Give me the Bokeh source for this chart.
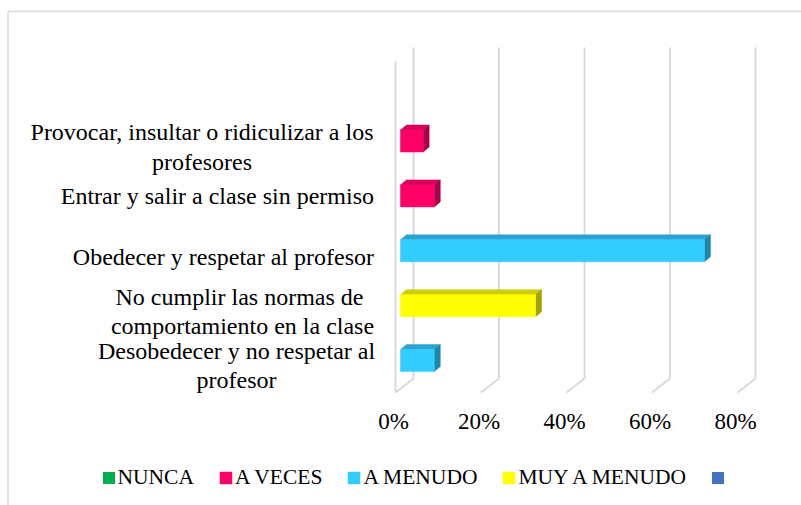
from bokeh.plotting import figure
from bokeh.models import Range1d, Legend, LegendItem
from bokeh.core.properties import value
from bokeh.embed import file_html
from bokeh.resources import INLINE

# ---------------- data ----------------
categories = [
    "Provocar, insultar o ridiculizar a los\nprofesores",
    "Entrar y salir a clase sin permiso",
    "Obedecer y respetar al profesor",
    "No cumplir las normas de \ncomportamiento en la clase",
    "Desobedecer y no respetar al\nprofesor",
]
series_names = ["NUNCA", "A VECES", "A MENUDO", "MUY A MENUDO", ""]
nunca = [0, 0, 0, 0, 0]
a_veces = [5.3, 7.9, 0, 0, 0]
a_menudo = [0, 0, 71.1, 0, 7.9]
muy_a_menudo = [0, 0, 0, 31.6, 0]
serie5 = [0, 0, 0, 0, 0]
x_ticks = [0, 20, 40, 60, 80]
tick_labels = ["0%", "20%", "40%", "60%", "80%"]

# ---------------- styles ----------------
front_colors = ["#00B050", "#FF0066", "#33CCFF", "#FFFF00", "#4472C4"]
top_colors = ["#008A3E", "#D9005A", "#2AA3D0", "#CDCD00", "#375E9E"]
side_colors = ["#006E32", "#A8004A", "#1F85A9", "#A3A300", "#2B4A7D"]
FONT = value("Liberation Serif")
GRID = "#D9D9D9"

# ---------------- layout (page pixels -> data units) ----------------
W, H = 801, 505
OFF = 0              # page offset of the canvas
PAGE_X0 = 395.0      # front-plane 0 %
PX_PCT = 4.275       # pixels per percent
PAGE_Y0 = 140.5      # first category (front face centre)
PX_CAT = 54.9        # pixels per category slot


def X(page_x):
    return (page_x - PAGE_X0) / PX_PCT


def Y(page_y):
    return (page_y - PAGE_Y0) / PX_CAT


def dx(px):
    return px / PX_PCT


def dy(px):
    return px / PX_CAT


p = figure(width=W, height=H, output_backend="svg", toolbar_location=None,
           x_range=Range1d(X(OFF), X(OFF + W)), y_range=Range1d(Y(OFF + H), Y(OFF)),
           x_axis_location=None, y_axis_location=None, min_border=0,
           outline_line_color=None, background_fill_color="white",
           border_fill_color="white")
p.grid.visible = False

# chart area border (left + top; right/bottom run off the page)
p.multi_line(xs=[[X(7.5), X(7.5)], [X(7.5), X(OFF + W)]],
             ys=[[Y(OFF + H), Y(11)], [Y(11), Y(11)]],
             line_color="#D9D9D9", line_width=1.5)

# 3D grid: back wall vertical lines + floor diagonals + left wall edge
DEPTH_X, DEPTH_Y = 18, 14
back_xs, back_ys, diag_xs, diag_ys = [], [], [], []
for t in x_ticks:
    back_xs.append([t + dx(DEPTH_X), t + dx(DEPTH_X)])
    back_ys.append([Y(47), Y(378)])
    diag_xs.append([t + dx(DEPTH_X), t])
    diag_ys.append([Y(378), Y(378) + dy(DEPTH_Y)])
p.multi_line(xs=back_xs, ys=back_ys, line_color=GRID, line_width=2)
p.multi_line(xs=diag_xs, ys=diag_ys, line_color=GRID, line_width=2)
p.line(x=[0, 0], y=[Y(61), Y(378) + dy(DEPTH_Y)], line_color=GRID, line_width=2)

# bars (front face + top + side)
BAR_SHIFT = 5      # px front-face shift into depth
HALF_H = 11        # px half bar height
BD_X, BD_Y = 6, 5  # px bar depth
all_series = [nunca, a_veces, a_menudo, muy_a_menudo, serie5]
legend_items = []
for k, (name, vals) in enumerate(zip(series_names, all_series)):
    L, R, T, B = [], [], [], []
    txs, tys, sxs, sys_ = [], [], [], []
    for i, v in enumerate(vals):
        x0 = dx(BAR_SHIFT)
        x1 = v + dx(BAR_SHIFT)
        yt = i - dy(HALF_H)
        yb = i + dy(HALF_H)
        if v <= 0:
            continue
        L.append(x0); R.append(x1); T.append(yt); B.append(yb)
        txs.append([x0, x1, x1 + dx(BD_X), x0 + dx(BD_X)])
        tys.append([yt, yt, yt - dy(BD_Y), yt - dy(BD_Y)])
        sxs.append([x1, x1 + dx(BD_X), x1 + dx(BD_X), x1])
        sys_.append([yt, yt - dy(BD_Y), yb - dy(BD_Y), yb])
    if L:
        p.patches(xs=txs, ys=tys, fill_color=top_colors[k], line_color=top_colors[k], line_width=0.5)
        p.patches(xs=sxs, ys=sys_, fill_color=side_colors[k], line_color=side_colors[k], line_width=0.5)
        r = p.quad(left=L, right=R, top=T, bottom=B, fill_color=front_colors[k],
                   line_color=front_colors[k], line_width=0.5)
    else:
        # series with only zero values: zero-size bar so the legend swatch exists
        r = p.quad(left=[dx(BAR_SHIFT)], right=[dx(BAR_SHIFT)], top=[0], bottom=[0],
                   fill_color=front_colors[k], line_color=front_colors[k], line_alpha=0)
    legend_items.append(LegendItem(label=name if name else " ", renderers=[r]))

# category labels
LBL_SIZE = "24px"
label_dy = [6, 0.5, 6, 5.5, 5]
c_idx = [0, 3, 4]
c_x = [201.5, 242, 236]
p.text(x=[X(px) for px in c_x], y=[i + dy(label_dy[i]) for i in c_idx],
       text=[categories[i] for i in c_idx], text_align="center", text_baseline="middle",
       text_font=FONT, text_font_size=LBL_SIZE, text_line_height=1.12, text_color="#000000")
r_idx = [1, 2]
p.text(x=[X(373.5)] * len(r_idx), y=[i + dy(label_dy[i]) for i in r_idx],
       text=[categories[i] for i in r_idx], text_align="right", text_baseline="middle",
       text_font=FONT, text_font_size=LBL_SIZE, text_color="#000000")

# x tick labels
p.text(x=[t - dx(2) for t in x_ticks], y=[Y(420.5)] * len(x_ticks), text=tick_labels,
       text_align="center", text_baseline="middle", text_font=FONT,
       text_font_size="23px", text_color="#000000")

# legend
legend = Legend(items=legend_items, orientation="horizontal", location=(100.5, 15),
                glyph_width=15, glyph_height=15, label_standoff=2, spacing=24,
                padding=0, margin=0, border_line_color=None, background_fill_alpha=0,
                label_text_font="Liberation Serif", label_text_font_size="21.5px",
                label_height=15, label_text_color="#000000")
p.add_layout(legend)

open("out.html", "w").write(file_html(p, INLINE))
